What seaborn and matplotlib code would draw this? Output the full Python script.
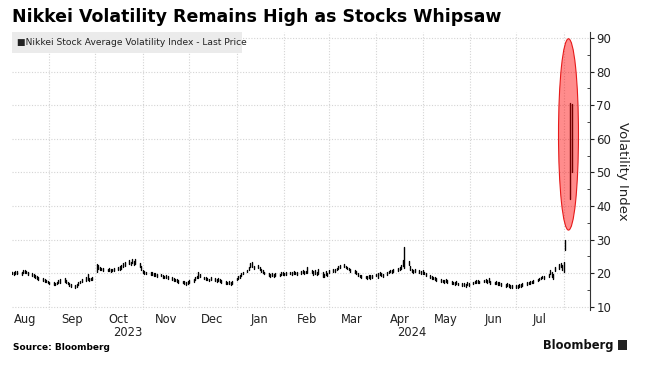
import numpy as np
import pandas as pd
import matplotlib
matplotlib.use('Agg')
import matplotlib.pyplot as plt
import matplotlib.dates as mdates
from matplotlib.patches import Ellipse, Rectangle
import seaborn as sns

# trading days shown (Aug 7 2023 .. Aug 6 2024)
start_day = '2023-08-07'
end_day = '2024-08-06'

# daily low / high of the Nikkei VI, month by month
low = [
    # Aug 2023
    19.9, 19.6, 19.4, 19.7, 19.6, 19.5, 19.9, 20.1, 19.9, 19.5, 19.2, 18.8, 18.5, 18.2, 17.9, 17.6, 17.4, 17.2, 16.9,
    # Sep
    16.6, 16.4, 16.3, 16.6, 16.9, 17.1, 17.3, 17.0, 16.6, 16.2, 15.9, 15.7, 15.9, 16.4, 16.9, 17.3, 17.7, 17.9, 17.6, 17.8, 18.0,
    # Oct
    20.3, 21.2, 21.0, 20.8, 20.6, 20.5, 20.6, 20.4, 20.5, 20.7, 20.9, 21.0, 21.3, 21.8, 22.2, 22.6, 22.3, 22.9, 22.4, 22.8, 21.8, 20.9,
    # Nov
    20.0, 19.7, 19.6, 19.4, 19.4, 19.2, 19.1, 18.9, 19.0, 18.6, 18.4, 18.4, 18.2, 18.0, 17.7, 17.5, 17.3, 17.1, 16.9, 16.7, 16.5, 16.8,
    # Dec
    17.0, 17.4, 17.9, 18.4, 18.6, 18.7, 18.1, 17.9, 17.8, 17.5, 17.9, 17.6, 17.4, 17.7, 17.3, 17.0, 16.8, 16.6, 16.7, 16.5, 16.8,
    # Jan 2024
    17.8, 18.2, 18.6, 19.1, 19.6, 20.2, 20.9, 21.7, 21.9, 21.1, 21.4, 20.9, 20.4, 20.0, 19.6, 19.2, 18.9, 19.1, 18.8, 19.2, 19.0, 19.4, 19.5,
    # Feb
    19.3, 19.5, 19.6, 19.4, 19.7, 19.6, 19.5, 19.8, 20.0, 19.7, 19.9, 20.0, 19.9, 19.5, 19.8, 19.3, 19.8, 18.8, 18.7, 19.5, 19.1,
    # Mar
    20.0, 20.3, 20.3, 20.8, 21.2, 21.5, 21.8, 21.4, 21.1, 20.8, 20.4, 20.0, 19.7, 19.2, 18.7, 18.5, 18.4, 18.3, 18.5, 18.2, 18.6,
    # Apr
    19.0, 18.5, 19.4, 19.1, 18.9, 19.3, 19.9, 20.2, 20.0, 20.4, 20.6, 21.0, 21.3, 22.0, 21.5, 22.3, 21.0, 20.4, 20.1, 20.4, 20.0, 19.8,
    # May
    19.8, 19.6, 19.2, 18.6, 18.3, 18.1, 17.9, 17.6, 17.4, 17.2, 17.1, 17.3, 17.0, 16.8, 16.6, 16.5, 16.7, 16.3, 16.1, 16.2, 15.9, 16.4, 16.2,
    # Jun
    16.6, 16.9, 17.0, 17.1, 16.9, 17.2, 17.3, 17.1, 17.2, 16.8, 16.6, 16.8, 16.4, 16.5, 16.2, 16.0, 16.1, 15.8, 15.7, 15.6,
    # Jul
    15.6, 15.7, 15.8, 16.0, 16.2, 16.4, 16.6, 16.7, 16.9, 17.1, 17.5, 17.8, 18.1, 18.4, 18.2, 18.8, 19.6, 18.9, 18.2, 20.6, 21.3, 21.7, 21.0,
    # Aug
    20.3, 26.8, 42.0, 50.0,
]
high = [
    20.7, 20.4, 20.3, 20.6, 20.5, 20.3, 20.9, 21.0, 20.7, 20.4, 20.0, 19.6, 19.3, 19.0, 18.7, 18.4, 18.2, 18.0, 17.7,
    17.4, 17.2, 17.1, 17.4, 17.8, 18.2, 18.4, 17.8, 17.4, 17.0, 16.7, 16.5, 16.7, 17.2, 17.7, 18.3, 18.7, 19.7, 18.4, 18.6, 18.9,
    22.7, 22.3, 21.9, 21.6, 21.4, 21.3, 21.4, 21.2, 21.3, 21.5, 21.7, 22.0, 22.3, 22.9, 23.4, 23.8, 23.3, 24.1, 23.6, 24.2, 23.0, 22.0,
    20.8, 20.5, 20.4, 20.2, 20.4, 20.0, 19.9, 19.7, 19.8, 19.4, 19.2, 19.4, 19.0, 18.8, 18.5, 18.3, 18.1, 17.9, 17.7, 17.5, 17.3, 17.6,
    17.8, 18.2, 18.7, 19.2, 20.4, 19.7, 18.9, 18.7, 18.6, 18.3, 18.7, 18.4, 18.2, 18.5, 18.1, 17.8, 17.6, 17.4, 17.5, 17.3, 17.6,
    18.6, 19.0, 19.4, 19.9, 20.4, 21.0, 21.7, 22.9, 23.2, 22.1, 22.4, 21.7, 21.2, 20.8, 20.4, 20.0, 19.7, 19.9, 19.6, 20.0, 19.8, 20.2, 20.3,
    20.1, 20.3, 20.4, 20.2, 20.5, 20.4, 20.3, 20.6, 20.8, 20.5, 20.7, 21.8, 21.0, 20.5, 20.8, 20.3, 21.3, 20.2, 19.8, 20.7, 20.1,
    21.0, 21.3, 21.1, 21.6, 22.0, 22.3, 22.6, 22.2, 21.9, 21.6, 21.2, 20.8, 20.5, 20.0, 19.5, 19.3, 19.2, 19.1, 19.3, 19.4, 19.4,
    19.8, 19.9, 20.2, 19.9, 19.7, 20.3, 20.7, 21.0, 20.8, 21.2, 21.4, 21.8, 22.3, 24.0, 27.7, 23.6, 22.0, 21.2, 20.9, 21.2, 20.8, 20.6,
    20.8, 20.4, 20.0, 19.4, 19.1, 18.9, 18.7, 18.4, 18.2, 18.0, 17.9, 18.1, 17.8, 17.6, 17.4, 17.3, 17.5, 17.1, 16.9, 17.0, 16.7, 17.2, 17.0,
    17.4, 17.7, 17.8, 17.9, 17.7, 18.0, 18.3, 17.9, 18.6, 17.6, 17.4, 17.6, 17.2, 17.3, 17.0, 16.8, 16.9, 16.6, 16.5, 16.4,
    16.4, 16.5, 16.6, 16.8, 17.0, 17.2, 17.4, 17.5, 17.7, 17.9, 18.3, 18.6, 18.9, 19.2, 19.0, 19.8, 20.8, 20.3, 19.7, 21.8, 22.6, 23.0, 22.5,
    23.2, 29.8, 70.6, 70.4,
]

month_labels = ['Aug', 'Sep', 'Oct', 'Nov', 'Dec', 'Jan', 'Feb', 'Mar', 'Apr', 'May', 'Jun', 'Jul']
years = ['2023', '2024']

days = pd.bdate_range(start_day, end_day)

bars = pd.DataFrame({'date': np.repeat(days, 2),
                     'value': np.ravel(np.column_stack([low, high]))})

sns.set_style('white')
plt.rcParams['font.family'] = ['DejaVu Sans']

fig = plt.figure(figsize=(6.45, 3.70), dpi=100)
ax = fig.add_axes([12 / 645, 1 - 310 / 370, 578 / 645, 278.3 / 370])

sns.lineplot(data=bars, x='date', y='value', units='date', estimator=None,
             color='black', lw=1.0, ax=ax, legend=False)

# highlight of the August spike
ax.add_patch(Ellipse((mdates.date2num(pd.Timestamp('2024-08-04')), 61.3), 13, 57,
                     facecolor=(1, 0, 0, 0.45), edgecolor=(0.9, 0.1, 0.1), lw=0.8, zorder=5))

ax.set_xlim(pd.Timestamp('2023-08-07 18:00'), pd.Timestamp('2024-08-18'))
ax.set_ylim(9.0, 91.9)

# grid: month starts, labels mid month
month_starts = pd.date_range('2023-09-01', '2024-08-01', freq='MS')
month_mids = pd.date_range('2023-08-01', '2024-07-01', freq='MS') + pd.Timedelta(days=15)
ax.set_xticks(month_starts)
ax.set_xticklabels([])
ax.set_xticks(month_mids, minor=True)
ax.set_xticklabels(month_labels, minor=True, fontsize=8.3, color='#222222')
ax.tick_params(axis='x', which='both', length=0, pad=2.5)
ax.grid(axis='x', which='major', color='#d4d4d4', ls=(0, (1, 1.5)), lw=0.8)
ax.grid(axis='y', which='major', color='#d4d4d4', ls=(0, (1, 1.5)), lw=0.8)
ax.set_xlabel('')

ax.yaxis.tick_right()
ax.yaxis.set_label_position('right')
ax.set_yticks(np.arange(10, 91, 10))
ax.set_yticks(np.arange(15, 90, 10), minor=True)
ax.tick_params(axis='y', which='major', length=3, width=0.8, direction='out', pad=1.5,
               labelsize=8.5, colors='#222222', right=True)
ax.tick_params(axis='y', which='minor', length=2, width=0.6, direction='in', right=True)
ax.set_ylabel('Volatility Index', rotation=270, labelpad=13, fontsize=9.5, color='#222222')

for side in ['left', 'top', 'bottom']:
    ax.spines[side].set_visible(False)
ax.spines['right'].set_linewidth(0.8)
ax.spines['right'].set_color('#333333')

# year labels under the month labels
year_pos = [pd.Timestamp('2023-10-22'), pd.Timestamp('2024-04-24')]
for yr, xp in zip(years, year_pos):
    ax.text(xp, -0.082, yr, transform=ax.get_xaxis_transform(), ha='center', va='center',
            fontsize=8.3, color='#222222')

# legend box
ax.add_patch(Rectangle((0, 1 - 21 / 278.3), 230 / 578, 21 / 278.3, transform=ax.transAxes,
                       facecolor='#ebebeb', edgecolor='none', zorder=4))
ax.text(5 / 578, 1 - 10.5 / 278.3, '\u25a0Nikkei Stock Average Volatility Index - Last Price',
        transform=ax.transAxes, ha='left', va='center', fontsize=6.6, color='#222222', zorder=6)

fig.text(12 / 645, 1 - 17 / 370, 'Nikkei Volatility Remains High as Stocks Whipsaw',
         fontsize=12.5, fontweight='bold', ha='left', va='center', color='black')
fig.text(13 / 645, 1 - 347 / 370, 'Source: Bloomberg', fontsize=6.5, fontweight='bold',
         ha='left', va='center', color='black')
fig.text(614 / 645, 1 - 345 / 370, 'Bloomberg', fontsize=8.3, fontweight='bold',
         ha='right', va='center', color='#111111')
fig.patches.append(Rectangle((618 / 645, 1 - 350 / 370), 9 / 645, 10 / 370,
                             transform=fig.transFigure, facecolor='#222222', edgecolor='none'))

fig.savefig('out.png', dpi=100)
